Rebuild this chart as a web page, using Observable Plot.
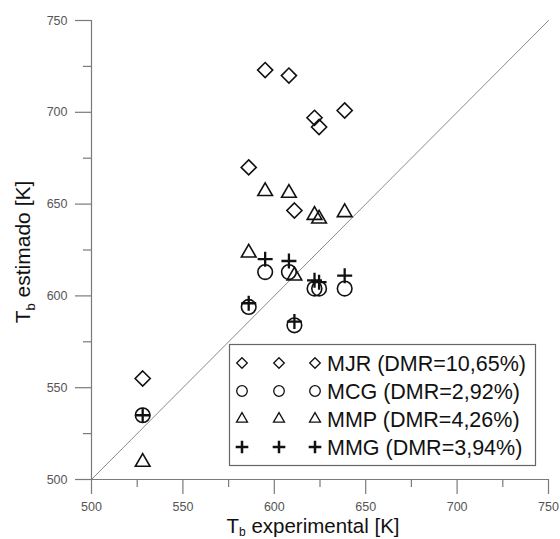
<!DOCTYPE html>
<html>
<head>
<meta charset="utf-8">
<script src="https://cdn.jsdelivr.net/npm/d3@7"></script>
<script src="https://cdn.jsdelivr.net/npm/@observablehq/plot@0.6"></script>
<style>
  html, body { margin: 0; padding: 0; background: #fff; }
  #chart { width: 560px; height: 539px; }
</style>
</head>
<body>
<div id="chart"></div>
<script>
// ---- data ----
const tExp   = [528, 586, 595, 608, 611, 622, 624.5, 638.5];
const mjr    = [555, 670, 723, 720, 646.5, 697, 692, 701];
const mcg    = [535, 594, 613, 613, 584, 604, 604, 604];
const mmp    = [509.5, 623.5, 657, 656, 611, 644, 642, 645.5];
const mmg    = [535, 596, 620, 619, 586, 608.5, 607.5, 611];
const seriesNames = ["MJR (DMR=10,65%)", "MCG (DMR=2,92%)", "MMP (DMR=4,26%)", "MMG (DMR=3,94%)"];
const domain = [500, 750];
const majorTicks = [500, 550, 600, 650, 700, 750];
const minorTicks = [525, 575, 625, 675, 725];

const toRows = (ys) => tExp.map((x, i) => ({x, y: ys[i]}));
const diag = domain.map(v => ({x: v, y: v}));

const axisGray = "#7a7a7a";
const labelGray = "#555";
const ink = "#111";

const plot = Plot.plot({
  width: 560,
  height: 539,
  marginLeft: 91,
  marginRight: 12,
  marginTop: 20,
  marginBottom: 60,
  style: {fontFamily: "'Liberation Sans', Arial, sans-serif", background: "#fff"},
  x: {domain, label: null},
  y: {domain, label: null},
  marks: [
    Plot.line(diag, {x: "x", y: "y", stroke: "#8a8a8a", strokeWidth: 1}),
    Plot.ruleX([domain[0]], {stroke: axisGray, strokeWidth: 1.2}),
    Plot.ruleY([domain[0]], {stroke: axisGray, strokeWidth: 1.2}),
    Plot.axisY(majorTicks, {tickSize: 16, tickPadding: 8, stroke: axisGray, fill: labelGray, fontSize: 12.5, label: null, strokeWidth: 1.2}),
    Plot.axisY(minorTicks, {tickSize: 8, tickFormat: () => "", stroke: axisGray, label: null, strokeWidth: 1.2}),
    Plot.axisX(majorTicks, {tickSize: 15, tickPadding: 8, stroke: axisGray, fill: labelGray, fontSize: 12.5, label: null, strokeWidth: 1.2}),
    Plot.axisX(minorTicks, {tickSize: 8, tickFormat: () => "", stroke: axisGray, label: null, strokeWidth: 1.2}),
    Plot.dot(toRows(mjr), {x: "x", y: "y", symbol: "diamond2", r: 6.8, stroke: ink, strokeWidth: 1.6, fill: "none"}),
    Plot.dot(toRows(mcg), {x: "x", y: "y", symbol: "circle", r: 7.3, stroke: ink, strokeWidth: 1.6, fill: "none"}),
    Plot.dot(toRows(mmp), {x: "x", y: "y", symbol: "triangle2", r: 7, stroke: ink, strokeWidth: 1.6, fill: "none"}),
    Plot.dot(toRows(mmg), {x: "x", y: "y", symbol: "plus", r: 4.9, stroke: ink, strokeWidth: 2.3, fill: "none"})
  ]
});

document.getElementById("chart").appendChild(plot);

// ---- titles & legend (overlay in the same SVG) ----
const svg = d3.select(plot);
const font = "'Liberation Sans', Arial, sans-serif";

const xt = svg.append("text")
  .attr("x", 313).attr("y", 533)
  .attr("text-anchor", "middle")
  .attr("font-family", font).attr("font-size", 20.5).attr("fill", ink);
xt.append("tspan").text("T");
xt.append("tspan").attr("font-size", 12).attr("dy", 2.5).text("b");
xt.append("tspan").attr("dy", -2.5).text(" experimental [K]");

const yt = svg.append("text")
  .attr("transform", "translate(30,252) rotate(-90)")
  .attr("text-anchor", "middle")
  .attr("font-family", font).attr("font-size", 21).attr("fill", ink);
yt.append("tspan").text("T");
yt.append("tspan").attr("font-size", 13).attr("dy", 5).text("b");
yt.append("tspan").attr("dy", -5).text(" estimado [K]");

const lg = svg.append("g");
lg.append("rect")
  .attr("x", 229.5).attr("y", 344.5).attr("width", 306).attr("height", 121)
  .attr("fill", "#fff").attr("stroke", "#666").attr("stroke-width", 1.2);

const legendSymbols = [
  {type: d3.symbolDiamond2, size: 72, sw: 1.3},
  {type: d3.symbolCircle, size: 88, sw: 1.3},
  {type: d3.symbolTriangle2, size: 87, sw: 1.3},
  {type: d3.symbolPlus, size: 54, sw: 2.5}
];
const rowY = [363, 391, 419, 447];
const symX = [242, 279, 315];
seriesNames.forEach((name, i) => {
  const s = legendSymbols[i];
  const path = d3.symbol(s.type, s.size)();
  symX.forEach(sx => {
    lg.append("path").attr("d", path)
      .attr("transform", `translate(${sx},${rowY[i]})`)
      .attr("fill", "none").attr("stroke", ink).attr("stroke-width", s.sw);
  });
  lg.append("text")
    .attr("x", 327).attr("y", rowY[i] + 7.5)
    .attr("text-anchor", "start")
    .attr("font-family", font).attr("font-size", 21.5).attr("fill", ink)
    .text(name);
});
</script>
</body>
</html>
